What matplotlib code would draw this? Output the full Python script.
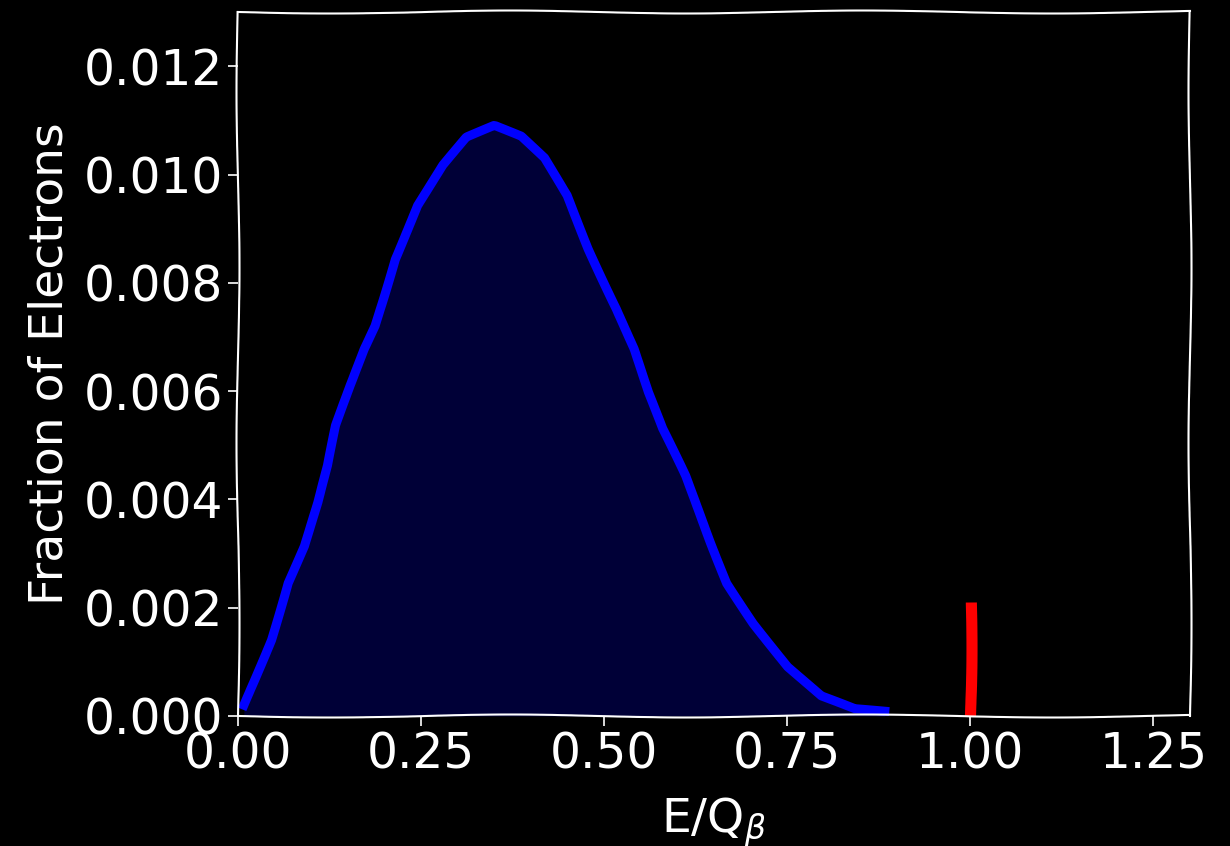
import matplotlib
matplotlib.use("Agg")
import matplotlib.pyplot as plt

# spectrum
energy = [0.008, 0.044, 0.067, 0.090, 0.110, 0.124, 0.135, 0.154, 0.172, 0.186,
          0.213, 0.245, 0.281, 0.313, 0.350, 0.386, 0.418, 0.450, 0.480, 0.518,
          0.541, 0.559, 0.578, 0.610, 0.646, 0.669, 0.705, 0.751, 0.796, 0.842, 0.883]
fraction = [0.0002, 0.00141, 0.00246, 0.00314, 0.00394, 0.00462, 0.00536, 0.0061,
            0.00678, 0.00721, 0.00844, 0.00943, 0.01017, 0.01067, 0.01088, 0.01069,
            0.0103, 0.00962, 0.00863, 0.00752, 0.00678, 0.00598, 0.0053, 0.00443,
            0.0032, 0.00246, 0.00172, 0.00091, 0.00036, 0.00011, 0.00006]

# the red marker at Q_beta
line_x = [1.0, 1.0]
line_y = [0.0, 0.0021]

sketch = (1.5, 400, 2)

plt.style.use("dark_background")
plt.rcParams["font.family"] = ["DejaVu Sans"]
plt.rcParams["axes.linewidth"] = 1.5

fig = plt.figure(figsize=(12.3, 8.46), dpi=100)
ax = fig.add_axes([0.1935, 0.1537, 0.774, 0.832])

ax.fill_between(energy, fraction, 0, color="blue", alpha=0.22, linewidth=0)
blue, = ax.plot(energy, fraction, color="blue", linewidth=6.5)
red, = ax.plot(line_x, line_y, color="red", linewidth=8, solid_capstyle="butt")
blue.set_sketch_params(*sketch)
red.set_sketch_params(1.5, 300, 2)
for sp in ax.spines.values():
    sp.set_sketch_params(*sketch)

ax.set_xlim(0, 1.3)
ax.set_ylim(0, 0.013)
ax.set_xticks([0.0, 0.25, 0.5, 0.75, 1.0, 1.25])
ax.set_yticks([0.0, 0.002, 0.004, 0.006, 0.008, 0.010, 0.012])
ax.tick_params(labelsize=35, length=7, width=1.2)
ax.set_xlabel(r"E/Q$_\beta$", fontsize=34, labelpad=12)
ax.set_ylabel("Fraction of Electrons", fontsize=34, labelpad=8)

plt.savefig("out.png", dpi=100, facecolor="black")
